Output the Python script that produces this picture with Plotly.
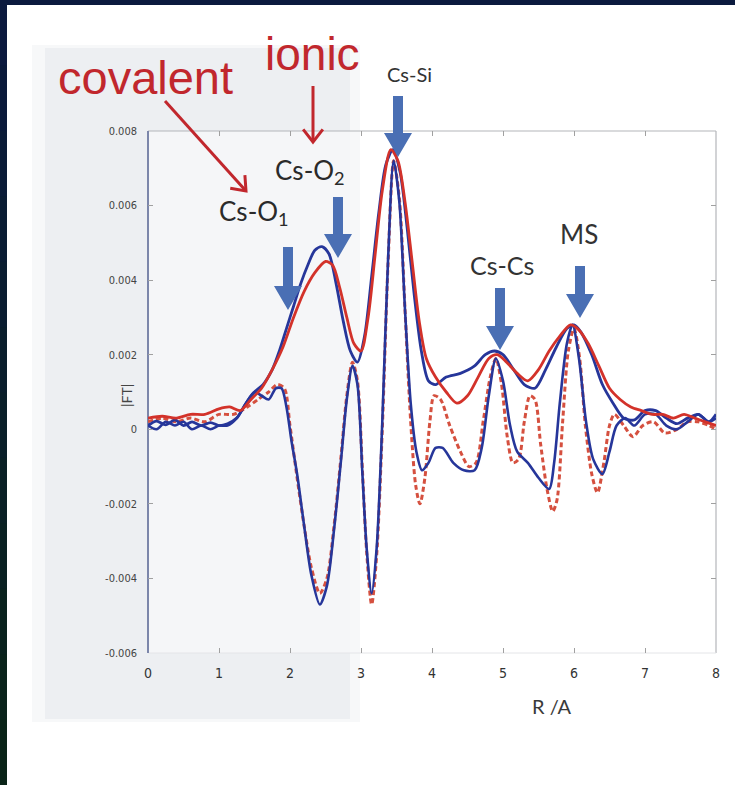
import math
import plotly.graph_objects as go

# ---------------- data ----------------
r_mag_exp = [0.0,0.12,0.25,0.38,0.5,0.62,0.75,0.88,1.0,1.12,1.25,1.38,1.5,1.62,1.75,1.85,1.95,2.05,2.15,2.25,2.35,2.45,2.55,2.65,2.75,2.85,2.95,3.05,3.15,3.25,3.35,3.45,3.55,3.65,3.75,3.85,3.95,4.05,4.2,4.4,4.6,4.75,4.88,5.0,5.15,5.3,5.45,5.6,5.75,5.9,6.0,6.1,6.25,6.4,6.55,6.7,6.85,7.0,7.15,7.3,7.45,7.6,7.75,7.9,8.0]
mag_exp = [0.0001,0.00022,0.00012,0.00025,0.0001,0.0002,0.0001,0.00018,0.0001,0.00015,0.0003,0.0007,0.001,0.0012,0.0016,0.0021,0.0027,0.0033,0.0039,0.0044,0.0048,0.0049,0.0047,0.0039,0.0029,0.0021,0.0018,0.0025,0.0041,0.0058,0.0071,0.0075,0.0069,0.0054,0.0036,0.0021,0.0013,0.0012,0.0014,0.0015,0.0017,0.002,0.0021,0.002,0.0016,0.0012,0.0011,0.0016,0.0022,0.0027,0.0028,0.0026,0.002,0.0012,0.0007,0.0003,0.00025,0.0005,0.0005,0.0003,0.00015,0.0003,0.0004,0.0002,0.0004]

r_mag_fit = [0.0,0.2,0.4,0.6,0.8,1.0,1.15,1.3,1.45,1.6,1.75,1.9,2.05,2.2,2.35,2.5,2.6,2.7,2.8,2.9,3.0,3.1,3.2,3.3,3.42,3.52,3.62,3.72,3.82,3.92,4.05,4.2,4.35,4.5,4.65,4.8,4.92,5.05,5.2,5.35,5.5,5.65,5.8,5.95,6.05,6.2,6.35,6.5,6.65,6.8,6.95,7.1,7.25,7.4,7.55,7.7,7.85,8.0]
mag_fit = [0.0003,0.00035,0.0003,0.0004,0.0004,0.00055,0.0006,0.0005,0.0008,0.0011,0.0016,0.0022,0.003,0.0037,0.0042,0.0045,0.0044,0.0038,0.003,0.0023,0.0021,0.003,0.0047,0.0064,0.0075,0.0072,0.0061,0.0045,0.0029,0.0019,0.0014,0.001,0.0007,0.0009,0.0014,0.0019,0.002,0.0018,0.0015,0.0013,0.0016,0.0021,0.0025,0.0028,0.0027,0.0023,0.0017,0.0011,0.0008,0.0006,0.0005,0.0004,0.0004,0.0003,0.0004,0.0003,0.0002,0.0001]

r_im_exp = [0.0,0.12,0.25,0.38,0.5,0.62,0.75,0.88,1.0,1.12,1.25,1.38,1.5,1.6,1.7,1.8,1.88,1.95,2.02,2.1,2.2,2.3,2.42,2.52,2.62,2.72,2.8,2.88,2.95,3.02,3.08,3.15,3.22,3.3,3.38,3.46,3.54,3.62,3.7,3.78,3.86,3.95,4.05,4.15,4.3,4.45,4.6,4.7,4.8,4.9,5.0,5.1,5.2,5.35,5.5,5.65,5.72,5.8,5.9,5.98,6.07,6.17,6.27,6.4,6.5,6.6,6.72,6.85,7.0,7.15,7.3,7.45,7.6,7.75,7.9,8.0]
im_exp = [0.0001,0.0,0.0002,0.0001,0.0002,0.0,0.0001,0.0,0.0001,0.0001,0.0003,0.0007,0.001,0.0009,0.0008,0.0011,0.0011,0.0006,-0.0003,-0.0012,-0.0026,-0.0039,-0.0047,-0.0042,-0.0027,-0.0008,0.0008,0.0017,0.0012,-0.0012,-0.0032,-0.0044,-0.0032,0.0002,0.0045,0.0072,0.0061,0.0032,0.0007,-0.0006,-0.0011,-0.0009,-0.0005,-0.0005,-0.0009,-0.0011,-0.0011,-0.0005,0.0009,0.0019,0.0013,0.0001,-0.0006,-0.0009,-0.0013,-0.0016,-0.0009,0.0007,0.0023,0.0028,0.0019,0.0002,-0.0008,-0.0012,-0.0006,0.0001,0.0003,0.0001,0.0004,0.0004,0.0001,0.0,0.0002,0.0004,0.0002,0.0003]

r_im_fit = [0.0,0.2,0.4,0.6,0.8,1.0,1.2,1.4,1.55,1.7,1.82,1.92,2.0,2.1,2.2,2.3,2.42,2.52,2.62,2.72,2.8,2.88,2.95,3.02,3.08,3.15,3.22,3.3,3.38,3.46,3.54,3.62,3.7,3.77,3.83,3.9,3.97,4.03,4.12,4.25,4.4,4.52,4.62,4.72,4.82,4.9,4.98,5.06,5.14,5.22,5.3,5.38,5.45,5.53,5.62,5.7,5.76,5.84,5.92,6.0,6.08,6.16,6.25,6.33,6.42,6.5,6.57,6.7,6.83,6.97,7.12,7.28,7.45,7.6,7.75,7.9,8.0]
im_fit = [0.0002,0.0003,0.0002,0.0003,0.0002,0.0004,0.0004,0.0006,0.0008,0.001,0.0012,0.0011,0.0001,-0.0013,-0.0026,-0.0037,-0.0044,-0.004,-0.0026,-0.0007,0.0009,0.0018,0.0013,-0.0011,-0.0033,-0.0047,-0.0034,0.0,0.0044,0.0072,0.0062,0.0032,0.0002,-0.0015,-0.002,-0.0013,0.0002,0.0009,0.0008,0.0001,-0.0006,-0.001,-0.0009,0.0002,0.0014,0.0019,0.0012,-0.0002,-0.0009,-0.0008,0.0002,0.0009,0.0008,-0.0004,-0.0016,-0.0022,-0.0019,0.0002,0.0021,0.0027,0.0019,0.0001,-0.0012,-0.0017,-0.0009,0.0001,0.0004,0.0001,-0.0002,0.0001,0.0002,-0.0001,0.0,0.0002,0.0002,0.0001,0.0]

x_ticks = [0, 1, 2, 3, 4, 5, 6, 7, 8]
y_ticks = [0.008, 0.006, 0.004, 0.002, 0, -0.002, -0.004, -0.006]
y_tick_text = ["0.008", "0.006", "0.004", "0.002", "0", "-0.002", "-0.004", "-0.006"]

# ---------------- geometry helpers (pixel -> paper) ----------------
W, H = 735, 785
L, R_, T, B = 148, 716, 131, 653
PW, PH = R_ - L, B - T

def px(x):
    return (x - L) / PW

def py(y):
    return (B - y) / PH

BLUE = "#26369a"
RED = "#d3322a"
RED_D = "#d5503f"
ARROW_BLUE = "#4a6fb4"
ANN_RED = "#c1272d"

fig = go.Figure()
fig.add_trace(go.Scatter(x=r_im_fit, y=im_fit, mode="lines", line=dict(color=RED_D, width=3, dash="5px,3px", shape="spline", smoothing=0.8), name="Im fit"))
fig.add_trace(go.Scatter(x=r_im_exp, y=im_exp, mode="lines", line=dict(color=BLUE, width=2.6, shape="spline", smoothing=0.8), name="Im exp"))
fig.add_trace(go.Scatter(x=r_mag_exp, y=mag_exp, mode="lines", line=dict(color=BLUE, width=2.8, shape="spline", smoothing=0.8), name="|FT| exp"))
fig.add_trace(go.Scatter(x=r_mag_fit, y=mag_fit, mode="lines", line=dict(color=RED, width=2.8, shape="spline", smoothing=0.8), name="|FT| fit"))

shapes = []
def rect(x0, y0, x1, y1, color, layer="below"):
    shapes.append(dict(type="rect", xref="paper", yref="paper", x0=px(x0), x1=px(x1), y0=py(y1), y1=py(y0),
                       fillcolor=color, line=dict(width=0), layer=layer))

def poly(pts, color, layer="above"):
    d = "M " + " L ".join("%.5f,%.5f" % (px(a), py(b)) for a, b in pts) + " Z"
    shapes.append(dict(type="path", xref="paper", yref="paper", path=d, fillcolor=color,
                       line=dict(width=0), layer=layer))

def polyline(pts, color, w, layer="above"):
    d = "M " + " L ".join("%.5f,%.5f" % (px(a), py(b)) for a, b in pts)
    shapes.append(dict(type="path", xref="paper", yref="paper", path=d,
                       line=dict(color=color, width=w), layer=layer))

# light grey screenshot panel
rect(32, 45, 360, 722, "#f7f8f9")
rect(45, 48, 350, 719, "#edeff2")
rect(148, 131, 350, 653, "#f5f6f8")
# dark frame
rect(0, 0, W, 5, "#0b1a3e", layer="above")
n = 12
for i in range(n):
    t = i / (n - 1)
    c0 = (11, 26, 62)
    c1 = (10, 36, 24)
    c = tuple(int(c0[k] + (c1[k] - c0[k]) * t) for k in range(3))
    rect(0, H * i / n, 7, H * (i + 1) / n + 1, "rgb(%d,%d,%d)" % c, layer="above")

# axis box
def seg(x0, y0, x1, y1, color, w):
    shapes.append(dict(type="line", xref="paper", yref="paper", x0=px(x0), x1=px(x1), y0=py(y0), y1=py(y1),
                       line=dict(color=color, width=w), layer="below"))
seg(L, T, R_, T, "#b4b6ba", 1.2)
seg(R_, T, R_, B, "#b4b6ba", 1.2)
seg(L, B, R_, B, "#e4e5e8", 1)
seg(L, T, L, B, "#7c86aa", 2)

# thick blue arrows (down-pointing)
def blue_arrow(xc, y_top, y_tip):
    hw, hh, hl = 5, 14, 24
    yb = y_tip - hl
    poly([(xc - hw, y_top), (xc + hw, y_top), (xc + hw, yb), (xc + hh, yb), (xc, y_tip),
          (xc - hh, yb), (xc - hw, yb)], ARROW_BLUE)

blue_arrow(398, 96, 157)
blue_arrow(338, 197, 258)
blue_arrow(288, 247, 310)
blue_arrow(500, 288, 350)
blue_arrow(580, 266, 318)

# red thin arrows with open V heads
def red_arrow(x0, y0, x1, y1):
    polyline([(x0, y0), (x1, y1)], ANN_RED, 3)
    ang = math.atan2(y1 - y0, x1 - x0)
    arm = 16
    spread = math.radians(38)
    a1 = (x1 - arm * math.cos(ang - spread), y1 - arm * math.sin(ang - spread))
    a2 = (x1 - arm * math.cos(ang + spread), y1 - arm * math.sin(ang + spread))
    polyline([a1, (x1, y1), a2], ANN_RED, 3)

red_arrow(165, 101, 246, 191)
red_arrow(313, 86, 313, 142)

annotations = []
def text(x, y, s, size, color, family="Lato"):
    annotations.append(dict(xref="paper", yref="paper", x=px(x), y=py(y), text=s, showarrow=False,
                            font=dict(size=size, color=color, family=family), xanchor="center", yanchor="middle"))

text(145, 77, "covalent", 47, ANN_RED, "Liberation Sans")
text(312, 54, "ionic", 46, ANN_RED, "Liberation Sans")

text(409, 74, "Cs-Si", 20, "#333333")
text(310, 171, "Cs-O<sub>2</sub>", 26, "#2a2a2a")
text(254, 212, "Cs-O<sub>1</sub>", 26, "#2a2a2a")
text(502, 265, "Cs-Cs", 25, "#333333")
text(579, 234, "MS", 26, "#333333")

text(552, 706, "R /A", 20, "#3a3a3a")
annotations.append(dict(xref="paper", yref="paper", x=px(126), y=py(396), text="|FT|", showarrow=False,
                        textangle=-90, font=dict(size=14, color="#444444", family="Lato"),
                        xanchor="center", yanchor="middle"))

fig.update_layout(
    width=W, height=H,
    margin=dict(l=L, r=W - R_, t=T, b=H - B, pad=0),
    paper_bgcolor="white", plot_bgcolor="rgba(0,0,0,0)",
    showlegend=False,
    shapes=shapes, annotations=annotations,
    xaxis=dict(range=[0, 8], tickvals=x_ticks, ticktext=[str(v) for v in x_ticks], showgrid=False, zeroline=False,
               showline=False, ticks="inside", ticklen=5, tickcolor="#a0a0a0", mirror="ticks",
               tickfont=dict(size=14, color="#333333", family="DejaVu Sans Condensed"), ticklabelstandoff=10),
    yaxis=dict(range=[-0.006, 0.008], tickvals=y_ticks, ticktext=y_tick_text, showgrid=False, zeroline=False,
               showline=False, ticks="inside", ticklen=5, tickcolor="#a0a0a0", mirror="ticks",
               tickfont=dict(size=11, color="#444444", family="DejaVu Sans Condensed"), ticklabelstandoff=10),
)

fig.write_html("out.html")
